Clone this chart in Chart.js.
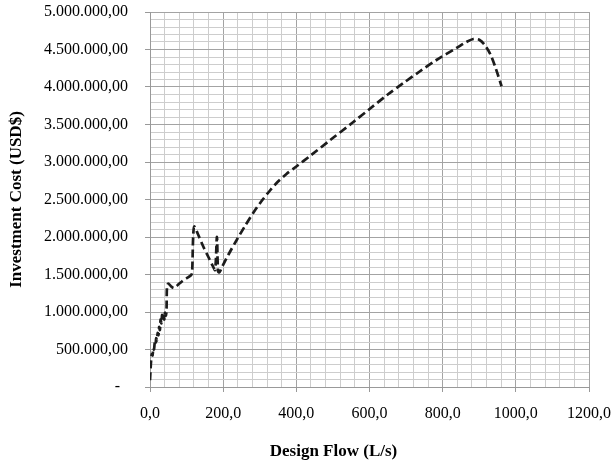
<!DOCTYPE html>
<html>
<head>
<meta charset="utf-8">
<script src="https://cdn.jsdelivr.net/npm/chart.js@4.4.1/dist/chart.umd.min.js"></script>
<style>
  html, body { margin: 0; padding: 0; background: #ffffff; }
  #wrap { width: 614px; height: 465px; position: relative; }
</style>
</head>
<body>
<div id="wrap"><canvas id="c" width="614" height="465"></canvas></div>
<script>
// Design flow (L/s)
const flows = [0, 1.5, 3, 5, 7, 9, 11, 13, 15, 17, 19, 21, 23, 25, 27, 29, 31, 33, 35, 37, 39, 41, 43, 45,
  46.5, 50, 58, 66, 76, 88, 100, 112, 115, 118, 121, 130, 145, 160, 172, 178, 183, 186, 190, 198,
  215, 237, 260, 282, 305, 328, 350, 373, 400, 440, 492, 555, 601, 650, 692, 738, 783, 838, 865,
  884, 900, 915, 930, 945, 961];
// Investment cost (USD$)
const costs = [90000, 230000, 350000, 440000, 420000, 520000, 500000, 590000, 560000, 650000, 620000,
  720000, 690000, 800000, 760000, 900000, 850000, 960000, 880000, 950000, 900000, 990000, 950000, 1000000,
  1340000, 1380000, 1340000, 1320000, 1360000, 1410000, 1450000, 1490000, 1520000, 2000000, 2140000,
  2050000, 1880000, 1730000, 1610000, 1560000, 2000000, 1540000, 1530000, 1610000,
  1770000, 1960000, 2150000, 2320000, 2480000, 2620000, 2740000, 2840000, 2940000, 3090000, 3290000,
  3530000, 3710000, 3900000, 4050000, 4210000, 4360000, 4520000, 4600000,
  4640000, 4630000, 4560000, 4440000, 4250000, 4010000];

const xMin = 0, xMax = 1200, xMinorStep = 40, xMajorStep = 200;
const yMin = 0, yMax = 5000000, yMinorStep = 100000, yMajorStep = 500000;
const xTitle = 'Design Flow (L/s)';
const yTitle = 'Investment Cost (USD$)';

function fmtY(v) {
  if (v === 0) return '-  ';
  const s = Math.round(v).toString();
  const parts = [];
  for (let i = s.length; i > 0; i -= 3) parts.unshift(s.substring(Math.max(0, i - 3), i));
  return parts.join('.') + ',00';
}
function fmtX(v) { return v.toFixed(1).replace('.', ','); }

const points = flows.map((f, i) => ({ x: f, y: costs[i] }));

Chart.defaults.color = '#000000';
Chart.defaults.font.family = '"Liberation Serif", "Times New Roman", serif';

const xTitlePlugin = {
  id: 'xTitlePlugin',
  afterDraw(chart) {
    const ctx = chart.ctx;
    const a = chart.chartArea;
    ctx.save();
    ctx.font = 'bold 17px "Liberation Serif", "Times New Roman", serif';
    ctx.fillStyle = '#000000';
    ctx.textAlign = 'center';
    ctx.textBaseline = 'middle';
    ctx.fillText(xTitle, (a.left + a.right) / 2 - 36, a.bottom + 65);
    ctx.restore();
  }
};

new Chart(document.getElementById('c'), {
  type: 'line',
  data: {
    datasets: [{
      data: points,
      borderColor: '#1c1c1c',
      borderWidth: 2.7,
      borderDash: [8, 4],
      pointRadius: 0,
      fill: false,
      tension: 0.3
    }]
  },
  options: {
    responsive: false,
    animation: false,
    devicePixelRatio: 1,
    layout: { padding: { top: 12, right: 25, left: 0, bottom: 0 } },
    plugins: { legend: { display: false }, tooltip: { enabled: false }, title: { display: false } },
    scales: {
      x: {
        type: 'linear',
        min: xMin, max: xMax,
        afterFit(s) { s.height = 78; s.paddingLeft = 0; s.paddingRight = 0; },
        border: { color: '#999999', width: 1 },
        grid: {
          color: c => (c.tick && c.tick.value % xMajorStep === 0) ? '#a3a3a3' : '#cdcdcd',
          tickColor: c => (c.tick && c.tick.value % xMajorStep === 0) ? '#999999' : 'rgba(0,0,0,0)',
          tickLength: 5,
          lineWidth: 1
        },
        ticks: {
          stepSize: xMinorStep,
          maxTicksLimit: 200,
          autoSkip: false,
          maxRotation: 0, minRotation: 0,
          padding: 12,
          font: { size: 16 },
          callback: v => (v % xMajorStep === 0) ? fmtX(v) : ''
        }
      },
      y: {
        type: 'linear',
        min: yMin, max: yMax,
        afterFit(s) { s.width = 150; s.paddingTop = 0; s.paddingBottom = 0; },
        border: { color: '#999999', width: 1 },
        grid: {
          color: c => (c.tick && c.tick.value % yMajorStep === 0) ? '#a3a3a3' : '#cdcdcd',
          tickColor: c => (c.tick && c.tick.value % yMajorStep === 0) ? '#999999' : 'rgba(0,0,0,0)',
          tickLength: 5,
          lineWidth: 1
        },
        ticks: {
          stepSize: yMinorStep,
          maxTicksLimit: 200,
          autoSkip: false,
          padding: 17,
          font: { size: 16 },
          callback: v => (v % yMajorStep === 0) ? fmtY(v) : ''
        },
        title: {
          display: true,
          text: yTitle,
          font: { size: 17, weight: 'bold' },
          padding: { top: 6, bottom: 0 }
        }
      }
    }
  },
  plugins: [xTitlePlugin]
});
</script>
</body>
</html>
